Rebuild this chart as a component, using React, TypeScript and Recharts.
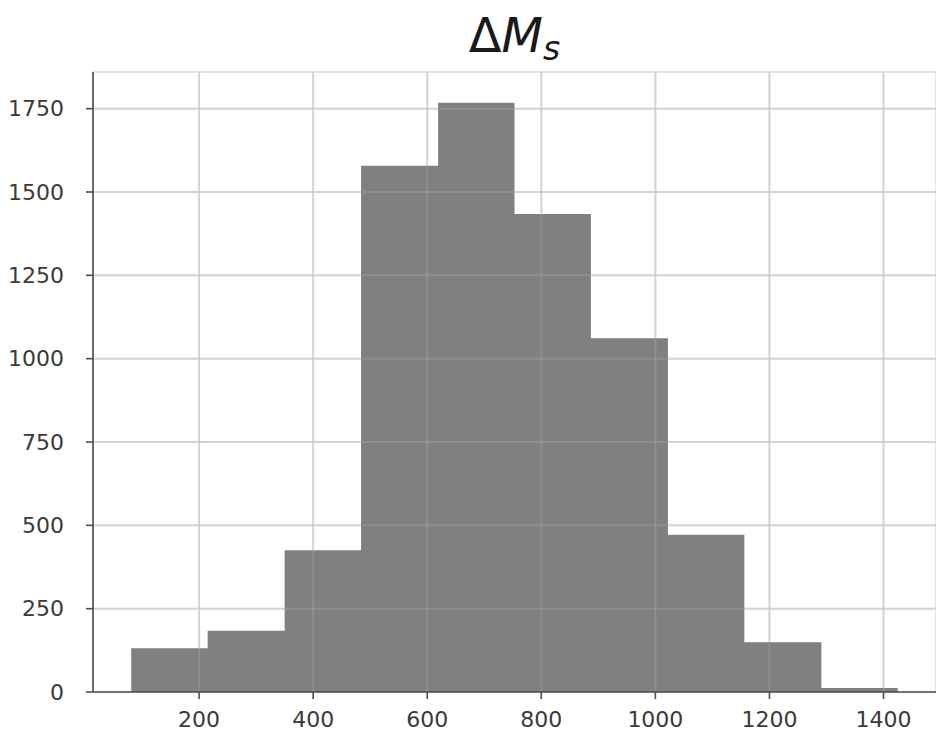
import { AreaChart, Area, XAxis, YAxis, CartesianGrid, ReferenceLine } from "recharts";

// ── Histogram data ───────────────────────────────────────────────────────────

const binEdges = [81, 215, 350, 484, 619, 753, 887, 1022, 1156, 1291, 1425];
const counts = [131, 184, 425, 1579, 1768, 1434, 1061, 472, 149, 12];
const xTicks = [200, 400, 600, 800, 1000, 1200, 1400];
const yTicks = [0, 250, 500, 750, 1000, 1250, 1500, 1750];
const xDomain = [14, 1492];
const yDomain = [0, 1860];

// one point per left edge, plus the closing right edge
const histData = binEdges.map((edge, i) => ({
  x: edge,
  count: counts[Math.min(i, counts.length - 1)],
}));

const tickStyle = { fontSize: 22, fill: "#3a3a3a", fontFamily: "DejaVu Sans" };
const spine = { stroke: "#4d4d4d", strokeWidth: 1.6 };
// translucent lines over the bars, like matplotlib's grid drawn on top
const gridLine = { stroke: "#b0b0b0", strokeOpacity: 0.3, strokeWidth: 2 };

export default function App() {
  return (
    <div style={{ position: "absolute", left: 0, top: 0, width: 936, height: 739, background: "#fff" }}>
      {/* Title: ΔM_s */}
      <div
        style={{
          position: "absolute",
          left: 93,
          width: 843,
          top: 6,
          textAlign: "center",
          fontFamily: "DejaVu Sans",
          fontSize: 48,
          color: "#1a1a1a",
          lineHeight: "58px",
        }}
      >
        Δ<span style={{ fontStyle: "italic" }}>M</span>
        <sub style={{ fontStyle: "italic", fontSize: 33, verticalAlign: "-8px" }}>s</sub>
      </div>

      <AreaChart width={936} height={739} data={histData} margin={{ top: 72, right: 0, left: 0, bottom: 0 }}>
        <CartesianGrid stroke="#e4e4e4" strokeWidth={2} />
        <XAxis
          dataKey="x"
          type="number"
          domain={xDomain}
          ticks={xTicks}
          allowDataOverflow
          height={47}
          tick={tickStyle}
          tickSize={7}
          tickMargin={12}
          axisLine={spine}
          tickLine={spine}
        />
        <XAxis
          xAxisId="top"
          orientation="top"
          dataKey="x"
          type="number"
          domain={xDomain}
          height={0}
          tick={false}
          tickLine={false}
          axisLine={spine}
        />
        <YAxis
          type="number"
          domain={yDomain}
          ticks={yTicks}
          allowDataOverflow
          width={93}
          tick={tickStyle}
          tickSize={7}
          tickMargin={22}
          axisLine={spine}
          tickLine={spine}
        />
        <Area
          dataKey="count"
          type="stepAfter"
          fill="#808080"
          fillOpacity={1}
          stroke="none"
          isAnimationActive={false}
          dot={false}
          activeDot={false}
        />
        {xTicks.map((t) => (
          <ReferenceLine key={`gx${t}`} x={t} {...gridLine} />
        ))}
        {yTicks.slice(1).map((t) => (
          <ReferenceLine key={`gy${t}`} y={t} {...gridLine} />
        ))}
      </AreaChart>
    </div>
  );
}
